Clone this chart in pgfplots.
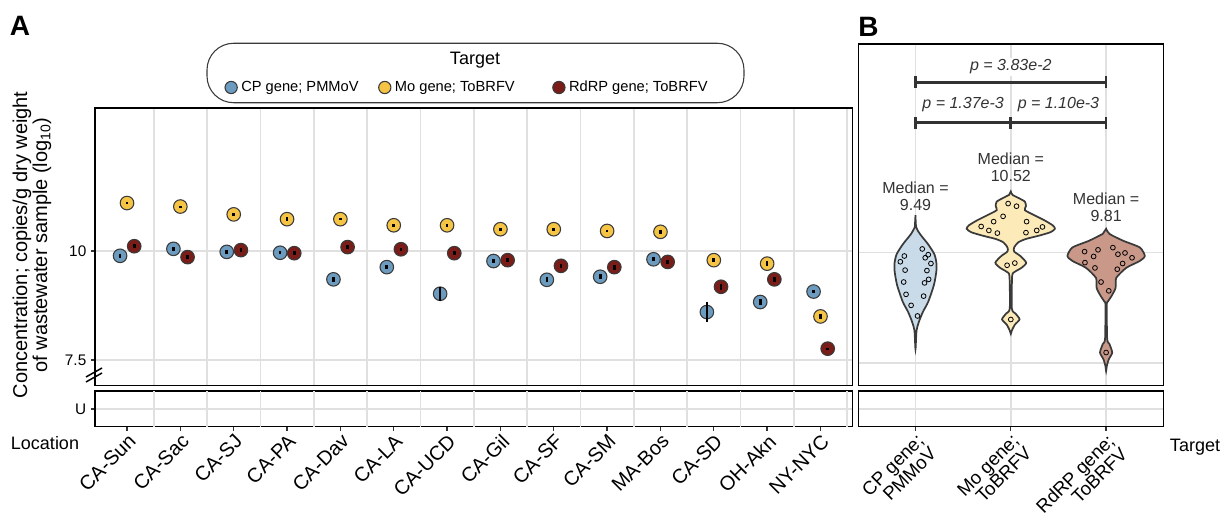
\documentclass[border=0pt]{standalone}
\usepackage{fontspec}
\setmainfont{Liberation Sans}
\setsansfont{Liberation Sans}
\usepackage{pgfplots}
\usepgfplotslibrary{statistics}
\pgfplotsset{compat=1.18}
\usepackage{pgfplotstable}

\definecolor{cpblue}{HTML}{6C9BC0}
\definecolor{moyel}{HTML}{F6C445}
\definecolor{rdred}{HTML}{7A1C18}
\definecolor{cpvio}{HTML}{C9DAE8}
\definecolor{movio}{HTML}{FCEAB9}
\definecolor{rdvio}{HTML}{C99888}
\definecolor{outl}{HTML}{3A3A3A}
\definecolor{gridc}{HTML}{E0E0E0}
\definecolor{tickc}{HTML}{333333}

\pgfplotstableread{
i cp cpe mo moe rd rde
1 9.89 0.04 11.10 0.03 10.11 0.04
2 10.05 0.04 11.02 0.02 9.86 0.04
3 9.98 0.04 10.84 0.03 10.02 0.04
4 9.96 0.04 10.73 0.04 9.95 0.04
5 9.35 0.06 10.73 0.03 10.09 0.04
6 9.63 0.05 10.59 0.04 10.04 0.04
7 9.02 0.16 10.59 0.03 9.95 0.05
8 9.77 0.05 10.50 0.03 9.79 0.05
9 9.34 0.06 10.50 0.03 9.66 0.05
10 9.41 0.06 10.46 0.03 9.63 0.06
11 9.81 0.05 10.44 0.04 9.75 0.05
12 8.60 0.22 9.79 0.05 9.18 0.07
13 8.83 0.07 9.71 0.06 9.35 0.06
14 9.07 0.04 8.50 0.06 7.76 0.02
}\dataA

\pgfplotstableread{
x y
0.883 9.92
0.841 9.79
1.071 10.08
1.134 9.95
1.102 9.88
1.162 9.75
0.891 9.60
1.120 9.59
0.876 9.33
1.138 9.39
1.095 9.31
0.901 9.05
1.085 9.01
0.954 8.80
1.021 8.56
}\ptsCP

\pgfplotstableread{
x y
1.972 11.11
2.060 11.05
1.919 10.82
1.820 10.70
2.166 10.70
1.689 10.59
1.770 10.50
1.859 10.44
2.159 10.45
2.272 10.50
2.332 10.58
1.961 9.71
2.042 9.76
2.000 8.48
}\ptsMo

\pgfplotstableread{
x y
2.774 10.02
2.869 9.91
2.915 10.06
3.071 10.11
3.124 9.96
3.198 9.99
3.272 9.88
2.778 9.77
2.883 9.65
3.117 9.62
3.173 9.75
2.947 9.33
3.028 9.13
3.000 7.73
}\ptsRd

\pgfplotsset{
  base/.style={scale only axis, anchor=south west,
    axis line style={line width=1.1pt, black},
    tick align=outside, major tick length=3pt,
    tick style={line width=1pt, draw=tickc},
    major grid style={draw=gridc, line width=1.25pt},
    clip=false, clip marker paths=true,
    xtick pos=bottom, ytick pos=left,
    ticklabel style={font=\fontsize{11.5}{12}\selectfont, text=black}},
}

\begin{document}
\begin{tikzpicture}
\useasboundingbox (0,0) rectangle (921.75pt,387.75pt);

% ---------------- Panel A main ----------------
\begin{axis}[base, at={(71.25pt,98.475pt)}, width=568.125pt, height=208.275pt,
  xmin=0.4, xmax=14.6, ymin=6.911, ymax=13.28,
  xtick={1.5,2.5,...,14.5}, xticklabels={}, xmajorgrids, xtick style={draw=none},
  ytick={7.5,10}, yticklabels={7.5,10}, ymajorgrids,
  legend columns=3,
  legend image code/.code={\draw[#1,mark size=4.6pt] plot coordinates {(0pt,0pt)};},
  legend style={at={(0.1713,1.0738)}, anchor=west, draw=none, fill=none, inner sep=0pt,
    font=\fontsize{11}{13}\selectfont,
    /tikz/every even column/.append style={column sep=13pt},
    /tikz/every odd column/.append style={column sep=1pt}},
]
\addplot[only marks, mark=*, mark size=5.1pt, mark options={fill=cpblue, draw=outl, line width=0.8pt}]
  table[x expr=\thisrow{i}-0.13, y=cp] {\dataA};
\addlegendentry{CP gene; PMMoV}
\addplot[draw=none, forget plot, error bars/.cd, y dir=both, y explicit, error mark=none,
  error bar style={draw=black, solid, line width=2pt}]
  table[x expr=\thisrow{i}-0.13, y=cp, y error=cpe] {\dataA};
\addplot[only marks, mark=*, mark size=5.1pt, mark options={fill=moyel, draw=outl, line width=0.8pt}]
  table[x=i, y=mo] {\dataA};
\addlegendentry{Mo gene; ToBRFV\rule{13.5pt}{0pt}}
\addplot[draw=none, forget plot, error bars/.cd, y dir=both, y explicit, error mark=none,
  error bar style={draw=black, solid, line width=2pt}]
  table[x=i, y=mo, y error=moe] {\dataA};
\addplot[only marks, mark=*, mark size=5.1pt, mark options={fill=rdred, draw=outl, line width=0.8pt}]
  table[x expr=\thisrow{i}+0.135, y=rd] {\dataA};
\addlegendentry{RdRP gene; ToBRFV}
\addplot[draw=none, forget plot, error bars/.cd, y dir=both, y explicit, error mark=none,
  error bar style={draw=black, solid, line width=2pt}]
  table[x expr=\thisrow{i}+0.135, y=rd, y error=rde] {\dataA};
\end{axis}

% ---------------- Panel A U strip ----------------
\begin{axis}[base, at={(71.25pt,67.725pt)}, width=568.125pt, height=26.775pt,
  xmin=0.4, xmax=14.6, ymin=0, ymax=1,
  xtick={1,...,14},
  xticklabels={CA-Sun,CA-Sac,CA-SJ,CA-PA,CA-Dav,CA-LA,CA-UCD,CA-Gil,CA-SF,CA-SM,MA-Bos,CA-SD,OH-Akn,NY-NYC},
  xticklabel style={rotate=45, anchor=north east, inner sep=1pt, font=\fontsize{15}{15}\selectfont},
  extra x ticks={1.5,2.5,...,14.5}, extra x tick labels={},
  extra x tick style={grid=major, tick style={draw=none}},
  ytick={0.5}, yticklabels={U}, ymajorgrids,
]
\end{axis}

% ---------------- Panel B main ----------------
\begin{axis}[base, at={(643.725pt,98.475pt)}, width=228.75pt, height=256.275pt,
  xmin=0.4, xmax=3.6, ymin=6.978, ymax=14.73,
  xtick={1,2,3}, xticklabels={}, xmajorgrids, xtick style={draw=none},
  ytick={7.5,10}, yticklabels={}, ymajorgrids, ytick style={draw=none},
]
% violins
\addplot[fill=cpvio, draw=outl, line width=1.3pt, smooth, tension=0.4] coordinates {
(1.000,10.845) (1.007,10.576) (1.046,10.422) (1.131,10.191) (1.198,9.961) (1.219,9.768)
(1.219,9.576) (1.194,9.268) (1.134,8.884) (1.078,8.653) (1.035,8.423) (1.011,8.230) (1.000,7.807)
(0.989,8.230) (0.965,8.423) (0.922,8.653) (0.866,8.884) (0.806,9.268) (0.781,9.576)
(0.781,9.768) (0.802,9.961) (0.869,10.191) (0.954,10.422) (0.993,10.576)} -- cycle;
\addplot[fill=movio, draw=outl, line width=1.3pt, smooth, tension=0.4] coordinates {
(2.000,11.383) (2.018,11.306) (2.088,11.229) (2.148,11.153) (2.159,11.053) (2.148,10.960)
(2.247,10.845) (2.353,10.730) (2.441,10.614) (2.463,10.537) (2.417,10.461) (2.300,10.384)
(2.159,10.307) (2.078,10.230) (2.035,10.114) (2.035,10.022) (2.099,9.922) (2.162,9.768)
(2.113,9.653) (2.042,9.561) (2.014,9.461) (2.011,8.730) (2.049,8.615) (2.092,8.484)
(2.042,8.361) (2.011,8.230) (2.000,8.153)
(1.989,8.230) (1.958,8.361) (1.908,8.484) (1.951,8.615) (1.989,8.730) (1.986,9.461)
(1.958,9.561) (1.887,9.653) (1.838,9.768) (1.901,9.922) (1.965,10.022) (1.965,10.114)
(1.922,10.230) (1.841,10.307) (1.700,10.384) (1.583,10.461) (1.537,10.537) (1.559,10.614)
(1.647,10.730) (1.753,10.845) (1.852,10.960) (1.841,11.053) (1.852,11.153) (1.912,11.229)
(1.982,11.306)} -- cycle;
\addplot[fill=rdvio, draw=outl, line width=1.3pt, smooth, tension=0.4] coordinates {
(3.000,10.537) (3.035,10.422) (3.177,10.268) (3.353,10.114) (3.406,9.922) (3.353,9.807)
(3.212,9.653) (3.106,9.422) (3.099,9.191) (3.053,8.999) (3.018,8.884) (3.007,8.807)
(3.011,8.038) (3.035,7.923) (3.064,7.730) (3.028,7.577) (3.007,7.423) (3.000,7.307)
(2.993,7.423) (2.972,7.577) (2.936,7.730) (2.965,7.923) (2.989,8.038) (2.993,8.807)
(2.982,8.884) (2.947,8.999) (2.901,9.191) (2.894,9.422) (2.788,9.653) (2.647,9.807)
(2.594,9.922) (2.647,10.114) (2.823,10.268) (2.965,10.422)} -- cycle;
% boxes
\addplot[fill=cpblue, draw=outl, line width=1.2pt, boxplot prepared={draw position=1,
  lower whisker=8.55, lower quartile=9.13, median=9.50, upper quartile=9.86, upper whisker=10.05,
  box extend=0.106, whisker extend=0}] coordinates {};
\addplot[fill=moyel, draw=outl, line width=1.2pt, boxplot prepared={draw position=2,
  lower whisker=10.20, lower quartile=10.445, median=10.55, upper quartile=10.714, upper whisker=11.08,
  box extend=0.092, whisker extend=0}] coordinates {};
\addplot[fill=rdred, draw=outl, line width=1.2pt, boxplot prepared={draw position=3,
  lower whisker=9.15, lower quartile=9.615, median=9.81, upper quartile=9.984, upper whisker=10.07,
  box extend=0.106, whisker extend=0}] coordinates {};
% points
\addplot[only marks, mark=o, mark size=1.8pt, mark options={draw=black, line width=0.6pt}] table[x=x,y=y] {\ptsCP};
\addplot[only marks, mark=o, mark size=1.8pt, mark options={draw=black, line width=0.6pt}] table[x=x,y=y] {\ptsMo};
\addplot[only marks, mark=o, mark size=1.8pt, mark options={draw=black, line width=0.6pt}] table[x=x,y=y] {\ptsRd};
% brackets
\addplot[draw=tickc, line width=2pt] coordinates {(1,13.86) (3,13.86)};
\addplot[draw=tickc, line width=2pt] coordinates {(1,13.73) (1,14.01)};
\addplot[draw=tickc, line width=2pt] coordinates {(3,13.73) (3,14.01)};
\addplot[draw=tickc, line width=2pt] coordinates {(1,12.95) (3,12.95)};
\addplot[draw=tickc, line width=2pt] coordinates {(1,12.80) (1,13.08)};
\addplot[draw=tickc, line width=2pt] coordinates {(2,12.80) (2,13.08)};
\addplot[draw=tickc, line width=2pt] coordinates {(3,12.80) (3,13.08)};
\node[font=\itshape\fontsize{12}{12}\selectfont, text=tickc, fill=white, inner sep=1.5pt] at (axis cs:2,14.21) {p = 3.83e-2};
\node[font=\itshape\fontsize{12}{12}\selectfont, text=tickc, fill=white, inner sep=1.5pt] at (axis cs:1.5,13.35) {p = 1.37e-3};
\node[font=\itshape\fontsize{12}{12}\selectfont, text=tickc, fill=white, inner sep=1.5pt] at (axis cs:2.5,13.35) {p = 1.10e-3};
\node[align=center, font=\fontsize{12}{12.5}\selectfont, text=tickc] at (axis cs:1,11.28) {Median =\\9.49};
\node[align=center, font=\fontsize{12}{12.5}\selectfont, text=tickc] at (axis cs:2,11.93) {Median =\\10.52};
\node[align=center, font=\fontsize{12}{12.5}\selectfont, text=tickc] at (axis cs:3,11.03) {Median =\\9.81};
\end{axis}

% ---------------- Panel B U strip ----------------
\begin{axis}[base, at={(643.725pt,67.725pt)}, width=228.75pt, height=26.775pt,
  xmin=0.4, xmax=3.6, ymin=0, ymax=1,
  xtick={1,2,3}, xmajorgrids,
  xticklabels={{CP gene;\\PMMoV},{Mo gene;\\ToBRFV},{RdRP gene;\\ToBRFV}},
  xticklabel style={rotate=45, anchor=north east, align=right, inner sep=1pt, font=\fontsize{14}{12.5}\selectfont},
  ytick={0.5}, yticklabels={}, ymajorgrids, ytick style={draw=none},
]
\end{axis}

% ---------------- texts ----------------
\draw[black, line width=1.1pt] (64.5pt,105pt) -- (76.5pt,111.75pt);
\draw[black, line width=1.1pt] (64.5pt,101.25pt) -- (76.5pt,108pt);
\node[rotate=90, align=center, font=\fontsize{15}{13.8}\selectfont] at (24pt,204pt)
  {Concentration; copies/g dry weight\\of wastewater sample (log\textsubscript{10})};
\node[font=\fontsize{13.5}{14}\selectfont] at (33.75pt,55.5pt) {Location};
\node[font=\fontsize{13.5}{14}\selectfont] at (896.25pt,52.5pt) {Target};
\node[font=\bfseries\fontsize{21}{22}\selectfont] at (15pt,368.6pt) {A};
\node[font=\bfseries\fontsize{21}{22}\selectfont] at (651.4pt,367.5pt) {B};
\draw[outl, line width=0.8pt, rounded corners=20pt] (155.25pt,310.7pt) rectangle (558pt,355.3pt);
\node[font=\fontsize{13.5}{14}\selectfont] at (356.25pt,342.75pt) {Target};
\end{tikzpicture}
\end{document}
